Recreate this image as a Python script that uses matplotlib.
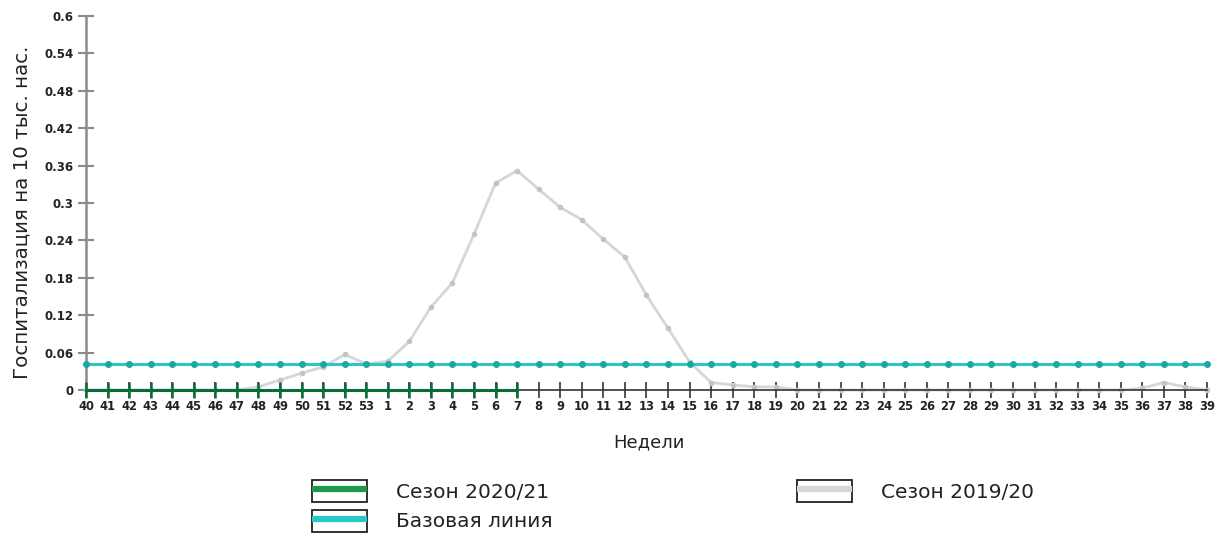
import matplotlib
matplotlib.use("Agg")
import matplotlib.pyplot as plt
from matplotlib.patches import Patch
from matplotlib.lines import Line2D
from matplotlib.legend_handler import HandlerTuple

weeks = [str(w) for w in list(range(40, 54)) + list(range(1, 40))]

season_2020_21 = [0.0] * 21  # weeks 40 .. 7

baseline = [0.042] * 53

season_2019_20 = [
    0, 0, 0, 0, 0, 0, 0, 0, 0.005, 0.016, 0.027, 0.037, 0.057, 0.042,  # 40..53
    0.046, 0.078, 0.133, 0.172, 0.25, 0.332, 0.352, 0.322, 0.293, 0.273,  # 1..10
    0.242, 0.213, 0.152, 0.099, 0.045, 0.012, 0.008, 0.005, 0.005, 0.0,  # 11..20
    0, 0, 0, 0, 0, 0, 0, 0, 0, 0, 0, 0, 0, 0, 0,  # 21..35
    0.003, 0.012, 0.005, 0.0,  # 36..39
]

yticks = [0, 0.06, 0.12, 0.18, 0.24, 0.3, 0.36, 0.42, 0.48, 0.54, 0.6]
ytick_labels = ["0", "0.06", "0.12", "0.18", "0.24", "0.3", "0.36", "0.42", "0.48", "0.54", "0.6"]

GREEN = "#0b6b35"
GREEN_LEG = "#1f9a4c"
CYAN = "#29c8c8"
CYAN_MK = "#1aa8a0"
GRAY = "#d6d6d6"
GRAY_MK = "#c4c4c4"
TXT = "#222222"

fig = plt.figure(figsize=(12.16, 5.38), dpi=100)
ax = fig.add_axes([0.0707, 0.2751, 0.9926 - 0.0707, 0.9703 - 0.2751])

x = list(range(len(weeks)))

ax.plot(x, season_2019_20, color=GRAY, lw=2, marker="o", ms=3,
        mfc=GRAY_MK, mec=GRAY_MK, zorder=2, clip_on=False)
ax.plot(x, baseline, color=CYAN, lw=2.2, marker="o", ms=4,
        mfc=CYAN_MK, mec=CYAN_MK, zorder=3, clip_on=False)
ax.plot(x[:len(season_2020_21)], season_2020_21, color=GREEN, lw=2.2,
        marker="|", ms=11, mew=1.8, zorder=5, clip_on=False)

ax.set_xlim(0, len(weeks) - 1)
ax.set_ylim(0, 0.6)
ax.set_xticks(x)
ax.set_xticklabels(weeks)
ax.set_yticks(yticks)
ax.set_yticklabels(ytick_labels)

for s in ["top", "right"]:
    ax.spines[s].set_visible(False)
ax.spines["left"].set_color("#8a8a8a")
ax.spines["left"].set_linewidth(1.8)
ax.spines["bottom"].set_color("#333333")
ax.spines["bottom"].set_linewidth(1.2)
ax.spines["bottom"].set_zorder(4)

ax.tick_params(axis="x", direction="inout", length=12, width=1.2, color="#333333",
               pad=1, labelsize=8.3)
ax.tick_params(axis="y", direction="inout", length=12, width=1.5, color="#8a8a8a",
               pad=3, labelsize=8.5)
for lab in ax.get_xticklabels() + ax.get_yticklabels():
    lab.set_fontfamily("DejaVu Sans")
    lab.set_fontweight("bold")
    lab.set_color(TXT)

ax.set_ylabel("Госпитализация на 10 тыс. нас.", fontsize=14.3, family="DejaVu Sans",
              color=TXT, va="center")
ax.yaxis.set_label_coords(-0.0575, 0.476)
ax.set_xlabel("Недели", fontsize=13, family="DejaVu Sans", color=TXT, va="center")
ax.xaxis.set_label_coords(0.502, (390 - 442) / 374)

def handle(c):
    return (Patch(facecolor="white", edgecolor="#222222", linewidth=1.3),
            Line2D([], [], color=c, lw=4.5, solid_capstyle="butt"))

common = dict(frameon=False, handler_map={tuple: HandlerTuple(ndivide=1, pad=0)},
              handlelength=2.74, handleheight=1.34, handletextpad=1.44,
              labelspacing=0.35, prop={"family": "DejaVu Sans", "size": 14.5},
              borderaxespad=0, borderpad=0)

leg1 = fig.legend([handle(GREEN_LEG), handle(CYAN)], ["Сезон 2020/21", "Базовая линия"],
                  loc="upper left", bbox_to_anchor=(312 / 1216, 1 - 480 / 538), **common)
leg2 = fig.legend([handle(GRAY)], ["Сезон 2019/20"],
                  loc="upper left", bbox_to_anchor=(797 / 1216, 1 - 480 / 538), **common)
for leg in (leg1, leg2):
    for t in leg.get_texts():
        t.set_color(TXT)

fig.savefig("out.png", dpi=100, facecolor="white")
